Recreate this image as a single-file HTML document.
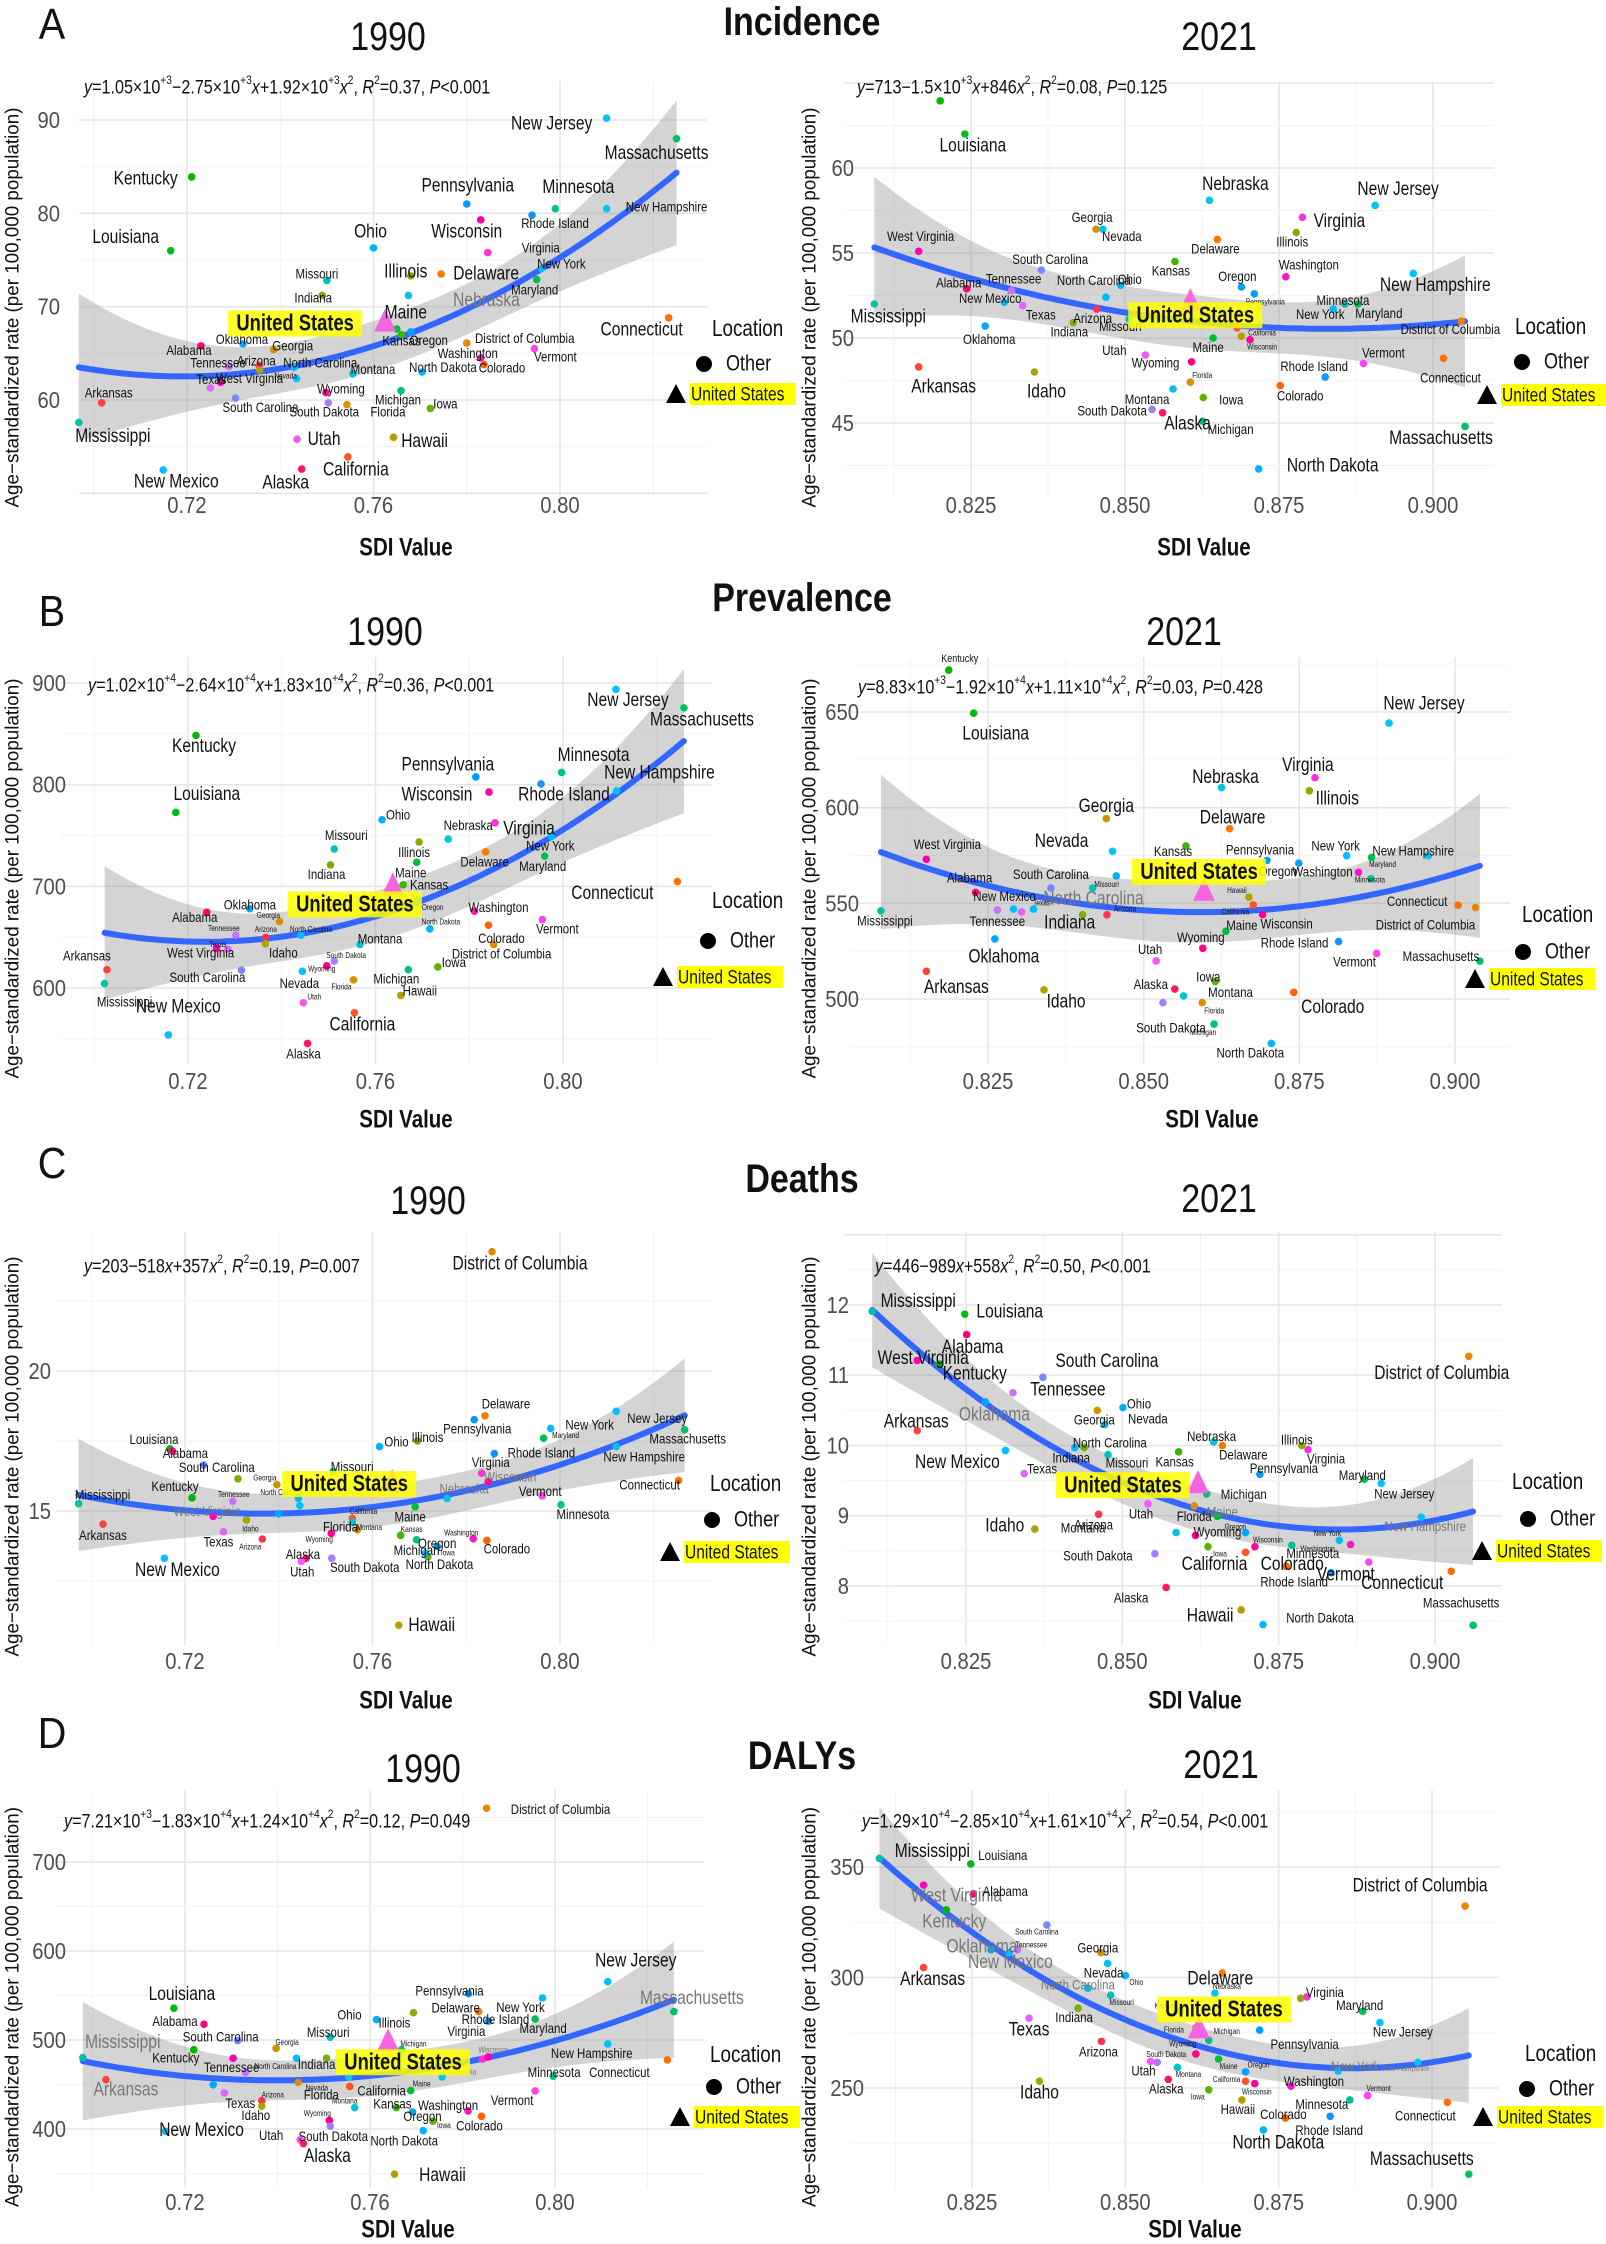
<!DOCTYPE html>
<html><head><meta charset="utf-8">
<style>
html,body{margin:0;padding:0;background:#fff;}
svg{display:block;font-family:"Liberation Sans",Arial,sans-serif;}
</style></head>
<body>
<svg id="fig" width="1606" height="2244" viewBox="0 0 1606 2244" xmlns="http://www.w3.org/2000/svg">
<rect x="0" y="0" width="1606" height="2244" fill="#fff"/>
</svg>
<script>
// ---------- DATA ----------
const A90_state=["NJ","MA","KY","PA","MN","NH","RI","WI","LA","OH","VA","NY","MO","IL","DE","MD","IN","NE","ME","CT","OR","OK","GA","DC","AL","VT","WA","TN","AZ","NC","MT","ND","CO","KS","AR","NV","TX","WV","WY","MI","SC","SD","FL","IA","MS","UT","HI","CA","AK","NM","ID"];
const A90_sdi=[.810,.825,.721,.780,.799,.810,.794,.783,.7165,.760,.7845,.796,.750,.768,.7745,.795,.749,.7675,.765,.8233,.768,.732,.7386,.780,.723,.7945,.783,.729,.7355,.743,.7556,.7704,.7837,.766,.7017,.7435,.725,.7272,.7498,.7659,.7304,.7503,.7543,.7722,.6968,.7436,.7643,.7545,.7446,.7149,.7356];
const A90_rate=[90.2,88.0,83.9,81.0,80.5,80.5,79.8,79.3,76.0,76.3,75.8,74.1,72.8,73.3,73.5,72.9,71.2,71.2,67.6,68.8,67.3,66.0,65.4,66.1,65.8,65.5,64.5,63.6,63.7,63.5,62.8,63.0,63.8,67.0,59.7,62.3,61.3,61.9,60.8,61.0,60.2,59.7,59.5,59.1,57.6,55.8,56.0,53.9,52.6,52.5,63.2];
const A90_lab=[[-55,5,"L"],[-20,14,"L"],[-46,1,"L"],[1,-19,"L"],[23,-22,"L"],[60,-2,"M"],[23,8,"M"],[-14,11,"L"],[-45,-14,"L"],[-3,-17,"L"],[53,-5,"M"],[20,-5,"M"],[-10,-7,"M"],[-5,-5,"L"],[45,-1,"L"],[-2,10,"M"],[-9,2,"M"],[78,4,"Lg"],[9,-17,"L"],[-27,11,"L"],[18,8,"M"],[-1,-5,"M"],[19,-4,"M"],[58,-5,"M"],[-12,4,"M"],[21,8,"M"],[-13,-5,"M"],[-11,-4,"M"],[-3,-5,"M"],[26,-5,"M"],[20,-5,"M"],[21,-5,"M"],[18,3,"M"],[0,6,"M"],[7,-10,"M"],[-11,-3,"X"],[1,-9,"M"],[29,-4,"M"],[15,-4,"M"],[-3,9,"M"],[25,9,"M"],[-4,9,"M"],[41,7,"M"],[15,-5,"M"],[34,13,"L"],[27,-1,"L"],[31,3,"L"],[8,12,"L"],[-16,13,"L"],[13,11,"L"],[0,0,"N"]];
const A90_us=[0.7625,68.3];
const A90_xticks=[0.72,0.76,0.80];
const A90_yticks=[60,70,80,90];

const A21_state=["KY","LA","NE","NJ","VA","GA","NV","IL","DE","WV","KS","SC","NH","WA","OR","AL","NC","OH","TN","PA","NM","MS","MN","MD","NY","TX","AZ","IN","MO","DC","OK","CA","ME","WI","UT","WY","VT","CT","AR","ID","RI","FL","CO","MT","IA","SD","AK","MI","MA","ND","HI"];
const A21_sdi=[.820,.824,.8637,.8906,.8788,.8453,.8464,.8778,.865,.8165,.8581,.8364,.8968,.8761,.8689,.8243,.8469,.8493,.8316,.871,.8304,.8093,.8857,.8878,.8838,.8334,.8454,.8416,.8507,.9046,.8273,.8682,.8643,.8703,.8533,.8608,.8887,.9017,.8165,.8353,.8825,.8606,.8752,.8578,.8627,.8544,.8561,.8626,.9052,.8717,.8689];
const A21_rate=[63.95,62.0,58.1,57.8,57.1,56.4,56.4,56.2,55.8,55.1,54.5,54.0,53.8,53.6,53.0,52.9,52.4,53.1,52.8,52.6,52.1,52.0,52.0,52.0,51.7,51.9,51.7,50.9,51.1,51.0,50.7,50.6,50.0,49.9,49.0,48.6,48.5,48.8,48.3,48.0,47.7,47.4,47.2,47.0,46.5,45.8,45.6,45.1,44.8,42.3,50.1];
const A21_lab=[[0,0,"N"],[8,11,"L"],[26,-17,"L"],[23,-17,"L"],[37,3,"L"],[-4,-12,"M"],[19,7,"M"],[-4,9,"M"],[-2,9,"M"],[2,-15,"M"],[-4,9,"M"],[9,-11,"M"],[22,11,"L"],[23,-12,"M"],[-4,-11,"M"],[-8,-6,"M"],[-12,-17,"M"],[9,-6,"M"],[2,-12,"M"],[11,8,"X"],[-14,-4,"M"],[14,12,"L"],[-2,-4,"M"],[21,9,"M"],[-13,5,"M"],[18,9,"M"],[-4,9,"M"],[-4,9,"M"],[-9,7,"M"],[-11,8,"M"],[4,13,"M"],[25,5,"X"],[-5,9,"M"],[12,7,"X"],[-31,-5,"M"],[-36,1,"M"],[20,-11,"M"],[7,19,"M"],[25,19,"L"],[12,19,"L"],[-11,-11,"M"],[12,-7,"X"],[20,10,"M"],[-26,10,"M"],[28,2,"M"],[-40,1,"M"],[25,10,"L"],[28,8,"M"],[-24,11,"L"],[74,-4,"L"],[0,0,"N"]];
const A21_us=[0.8606,52.1];
const A21_xticks=[0.825,0.850,0.875,0.900];
const A21_yticks=[45,50,55,60];

const B90_state=["NJ","MA","KY","PA","MN","RI","WI","NH","LA","OH","NE","VA","NY","MO","IL","DE","MD","ME","IN","CT","KS","OR","OK","WA","AL","GA","VT","ND","CO","TN","AZ","NC","ID","MT","DC","WV","TX","SD","IA","AR","SC","MI","NV","WY","FL","MS","HI","UT","CA","NM","AK"];
const B90_sdi=[.8113,.8258,.7217,.7814,.7997,.7953,.7842,.8114,.7174,.7614,.7755,.7855,.7975,.7512,.7693,.7835,.7961,.7688,.7504,.8244,.7659,.7692,.7332,.7811,.724,.7395,.7956,.7716,.7841,.7302,.7366,.7441,.7365,.7567,.7852,.7261,.7285,.7512,.7733,.7027,.7314,.767,.7444,.7496,.7553,.7022,.7654,.7446,.7555,.7158,.7455];
const B90_rate=[893.8,875.6,848.4,807.6,812,800.7,792.7,793.8,772.7,765.5,746.5,762.5,749,736.7,743.6,734,729.8,723.6,721.1,704.7,701.5,687.3,678,675.6,674.5,665.5,667.3,658.2,661.8,652,649.8,652,643.6,642.9,642.9,638.9,638,626.5,620.7,618,617.5,618,616.4,621.8,608,604.4,592.7,585.5,575.6,553.8,545.5];
const B90_lab=[[12,10,"L"],[18,11,"L"],[8,10,"L"],[-28,-13,"L"],[32,-18,"L"],[23,10,"L"],[-52,2,"L"],[43,-19,"L"],[31,-19,"L"],[16,-5,"M"],[20,-14,"M"],[34,5,"L"],[-1,9,"M"],[12,-14,"M"],[-5,10,"M"],[-1,10,"M"],[-2,10,"M"],[-6,10,"M"],[-4,9,"M"],[-65,11,"L"],[26,0,"M"],[14,8,"X"],[0,-4,"M"],[24,-4,"M"],[-12,5,"M"],[-11,-6,"X"],[15,9,"M"],[11,-7,"X"],[13,13,"M"],[-12,-7,"X"],[0,-8,"X"],[10,-6,"X"],[18,9,"M"],[20,-6,"M"],[8,9,"M"],[-16,4,"M"],[-10,-5,"X"],[12,-6,"X"],[16,-5,"M"],[-20,-14,"M"],[-34,7,"M"],[-12,9,"M"],[-3,12,"M"],[-5,3,"X"],[-12,7,"X"],[20,18,"M"],[19,-5,"M"],[11,-6,"X"],[8,11,"L"],[10,-29,"L"],[-4,10,"M"]];
const B90_us=[0.7637,700];
const B90_xticks=[0.72,0.76,0.80];
const B90_yticks=[600,700,800,900];

const B21_state=["KY","LA","NJ","VA","NE","IL","GA","DE","KS","NV","WV","PA","NY","MD","NH","OR","WA","MN","SC","OH","MO","AL","NM","NC","TX","HI","CA","CT","DC","MS","TN","IN","AZ","WI","ME","OK","RI","WY","VT","MA","UT","AR","IA","ID","AK","CO","MT","SD","FL","MI","ND"];
const B21_sdi=[.8187,.8227,.8894,.8775,.8625,.8766,.844,.8638,.8568,.845,.8151,.8698,.8826,.8866,.8957,.8749,.8845,.8865,.8351,.8456,.8418,.823,.8291,.8323,.8304,.8669,.8676,.9005,.9033,.8078,.8265,.8402,.8441,.8691,.8632,.8261,.8813,.8595,.8874,.904,.852,.8151,.8615,.834,.855,.8741,.8564,.8531,.8594,.8613,.8705];
const B21_rate=[671.9,649.4,644.2,615.7,610.5,608.8,594.3,589,580,577.2,573,572.4,574.9,574,574.9,571,566.2,562.9,558,564.3,558,555.7,547,547,545.5,553.2,549.2,549,547.8,546.1,546.5,544,544,544.1,535.4,531.4,530,526.5,523.8,519.8,519.9,514.5,509.1,504.8,505.2,503.5,501.6,498.1,498.1,486.9,476.8];
const B21_lab=[[11,-11,"S"],[22,20,"L"],[35,-20,"L"],[-7,-13,"L"],[4,-11,"L"],[28,7,"L"],[0,-13,"L"],[3,-12,"L"],[-13,5,"M"],[-51,-11,"L"],[21,-15,"M"],[-7,-11,"M"],[-11,-10,"M"],[11,7,"X"],[-15,-5,"M"],[-21,8,"M"],[-36,-1,"M"],[-1,1,"X"],[0,-14,"M"],[0,0,"N"],[14,-4,"X"],[-6,-15,"M"],[-9,-13,"M"],[60,-11,"Lg"],[20,-9,"X"],[-12,-7,"X"],[-18,7,"X"],[-41,-4,"M"],[-50,17,"M"],[4,10,"M"],[0,11,"M"],[-13,7,"L"],[18,-6,"X"],[24,9,"M"],[16,-6,"M"],[9,17,"L"],[-44,1,"M"],[-2,-11,"M"],[-22,8,"M"],[-39,-5,"M"],[-6,-12,"M"],[30,15,"L"],[-7,-5,"M"],[22,11,"L"],[-24,-5,"M"],[39,14,"L"],[47,-4,"M"],[8,25,"M"],[12,8,"X"],[-11,8,"X"],[-21,9,"M"]];
const B21_us=[0.8597,556];
const B21_xticks=[0.825,0.850,0.875,0.900];
const B21_yticks=[500,550,600,650];

const C90_state=["DC","DE","PA","NJ","NY","MD","MA","IL","OH","LA","AL","RI","NH","SC","WI","VA","MO","GA","CT","KY","TN","NC","NE","MS","VT","MN","ME","WV","ID","CA","AR","FL","TX","WY","KS","WA","AZ","CO","MI","OR","IA","AK","SD","NM","UT","ND","HI","IN","MT","NV","OK"];
const C90_sdi=[.7855,.784,.7817,.812,.798,.7965,.8266,.7696,.7615,.7168,.7173,.786,.812,.724,.7847,.7833,.7516,.7396,.8253,.7215,.7302,.7442,.7759,.6973,.7962,.8002,.7691,.726,.7331,.7557,.7025,.7568,.7282,.7512,.766,.7815,.7365,.7844,.7694,.7738,.7718,.7458,.7513,.7156,.7448,.7713,.7656,.7313,.7557,.7445,.7400];
const C90_rate=[24.26,18.4,18.26,18.56,17.95,17.6,17.9,17.5,17.3,17.22,17.14,17.05,17.3,16.64,16.05,16.35,16.41,15.94,16.09,15.47,15.35,15.45,15.45,15.26,15.54,15.22,15.15,14.81,14.68,14.74,14.53,14.33,14.26,14.2,14.13,14.01,14.0,13.95,13.97,13.74,13.37,13.31,13.31,13.31,13.2,13.49,10.92,16.15,14.6,15.19,14.9];
const C90_lab=[[28,11,"L"],[21,-12,"M"],[3,9,"M"],[41,7,"M"],[39,-4,"M"],[22,-3,"X"],[3,9,"M"],[10,-4,"M"],[17,-5,"M"],[-16,-10,"M"],[13,2,"M"],[47,-1,"M"],[28,10,"M"],[13,2,"M"],[22,-5,"Mg"],[9,-11,"M"],[19,-5,"M"],[-12,-7,"X"],[-29,4,"M"],[-17,-12,"M"],[1,-7,"X"],[-17,-6,"X"],[17,-10,"Mg"],[24,-9,"M"],[-2,-5,"M"],[22,9,"M"],[-5,10,"M"],[-6,-5,"Mg"],[4,9,"X"],[11,-7,"X"],[0,11,"M"],[-17,-3,"M"],[-5,10,"M"],[-12,6,"X"],[11,-6,"X"],[-12,-6,"X"],[-12,8,"X"],[20,8,"M"],[0,10,"M"],[0,-3,"M"],[20,-4,"X"],[-3,-4,"M"],[33,9,"M"],[13,11,"L"],[1,10,"M"],[14,11,"M"],[33,-1,"L"],[0,0,"N"],[17,5,"X"],[0,0,"N"],[0,0,"N"]];
const C90_us=[0.7642,16.0];
const C90_xticks=[0.72,0.76,0.80];
const C90_yticks=[15,20];

const C21_state=["MS","LA","AL","WV","KY","DC","SC","TN","OK","GA","OH","NV","AR","NE","DE","IL","VA","NC","KS","NM","MO","IN","TX","PA","MD","NJ","MI","UT","FL","ME","AZ","NH","ID","OR","MT","WY","NY","WA","WI","IA","MN","SD","CA","VT","CO","RI","CT","AK","MA","HI","ND"];
const C21_sdi=[.81,.8248,.8251,.8172,.8208,.9054,.8373,.8325,.8281,.846,.8501,.8472,.8172,.8646,.866,.8787,.8797,.8424,.859,.8313,.8477,.8439,.8343,.872,.8887,.8914,.8635,.8541,.8615,.8652,.8462,.8978,.836,.8697,.8586,.8617,.8847,.8865,.8712,.8637,.8771,.8552,.8697,.8894,.8762,.8834,.9026,.857,.9061,.869,.8725];
const C21_rate=[11.91,11.87,11.58,11.21,11.16,11.27,10.97,10.75,10.62,10.5,10.54,10.3,10.21,10.05,10.0,10.0,9.94,9.97,9.91,9.93,9.87,9.97,9.6,9.59,9.52,9.46,9.31,9.17,9.14,8.99,9.02,8.98,8.81,8.76,8.76,8.72,8.65,8.59,8.56,8.56,8.58,8.46,8.48,8.34,8.28,8.19,8.21,7.98,7.44,7.66,7.45];
const C21_lab=[[46,-11,"L"],[45,-3,"L"],[6,12,"L"],[6,-3,"L"],[35,9,"L"],[-27,16,"L"],[64,-17,"L"],[55,-4,"L"],[9,12,"Lg"],[-3,9,"M"],[16,-4,"M"],[43,-6,"M"],[-1,-10,"L"],[-2,-6,"M"],[21,9,"M"],[-5,-6,"M"],[18,9,"M"],[35,-5,"M"],[-4,10,"M"],[-48,11,"L"],[19,8,"M"],[-13,10,"M"],[18,-5,"M"],[24,-6,"M"],[-2,-4,"M"],[23,10,"M"],[37,0,"M"],[-7,10,"M"],[0,10,"M"],[5,-5,"Mg"],[-5,10,"M"],[4,9,"Mg"],[-30,-4,"L"],[-10,-6,"X"],[-93,-5,"M"],[22,-4,"M"],[-12,-7,"X"],[-33,4,"X"],[13,-7,"X"],[12,7,"X"],[21,8,"M"],[-57,2,"M"],[-31,11,"L"],[-23,12,"L"],[6,-3,"L"],[-37,9,"M"],[-49,11,"L"],[-35,10,"M"],[-12,-23,"M"],[-31,5,"L"],[57,-7,"M"]];
const C21_us=[0.8621,9.45];
const C21_xticks=[0.825,0.850,0.875,0.900];
const C21_yticks=[8,9,10,11,12];

const D90_state=["DC","NJ","PA","NY","MA","LA","DE","OH","RI","MD","AL","IL","VA","WI","MO","SC","GA","KY","MS","MI","NH","IN","NC","WV","CT","TN","MN","NE","AR","CA","ME","FL","NV","VT","TX","AZ","MT","WA","KS","ID","OR","CO","IA","WY","SD","NM","ND","UT","AK","HI","OK"];
const D90_sdi=[.7852,.8114,.7813,.7973,.8257,.7176,.7835,.7614,.7856,.7957,.7241,.7694,.7843,.7856,.7514,.7314,.7397,.7219,.6979,.7668,.8114,.7506,.7441,.7304,.8243,.7331,.7996,.7756,.7029,.7556,.7688,.7445,.7554,.7957,.7285,.7366,.7567,.7812,.7657,.7366,.7692,.7841,.7736,.7512,.7514,.7158,.7715,.7449,.7456,.7653,.7261];
const D90_rate=[760.4,565.5,552.1,547.2,531.9,535.7,531.9,523,521.2,523.5,517.7,530.7,478.4,481,503.2,499.4,490.6,489.1,480.3,489.1,495.6,479.5,479.5,479.5,477.6,463.8,459.3,458.5,455.4,447.8,443.2,452.4,458.5,442.8,440.5,431.8,424.1,420.3,424.1,425.6,419.1,414.2,408.8,409.6,403.1,397.4,398.1,387.8,383.6,349.2,449.7];
const D90_lab=[[74,1,"M"],[28,-22,"L"],[-19,-3,"M"],[-22,9,"M"],[18,-14,"Lg"],[8,-15,"L"],[-23,-4,"M"],[-27,-5,"M"],[7,-2,"M"],[8,9,"M"],[-29,-3,"M"],[-19,10,"M"],[-16,-28,"M"],[5,-7,"Xg"],[-2,-5,"M"],[-17,-4,"M"],[11,-6,"X"],[-18,8,"M"],[40,-16,"Lg"],[12,-6,"X"],[-16,9,"M"],[-10,6,"M"],[-21,8,"X"],[0,0,"N"],[-48,12,"M"],[-14,-5,"M"],[1,-4,"M"],[20,-5,"Xg"],[20,9,"Lg"],[32,4,"M"],[11,-7,"X"],[23,12,"M"],[-32,11,"X"],[-23,9,"M"],[16,10,"M"],[11,-6,"X"],[-10,-7,"X"],[-20,-6,"M"],[-4,-4,"M"],[-6,9,"M"],[10,4,"M"],[-2,9,"M"],[11,4,"X"],[-12,-7,"X"],[3,10,"M"],[36,-2,"L"],[-19,10,"M"],[-29,-5,"M"],[24,12,"L"],[48,0,"L"],[0,0,"N"]];
const D90_us=[0.7639,497.5];
const D90_xticks=[0.72,0.76,0.80];
const D90_yticks=[400,500,600,700];

const D21_state=["MS","LA","WV","AL","KY","DC","SC","OK","TN","NM","GA","NV","AR","OH","DE","NC","NE","MO","VA","IL","MD","IN","TX","NJ","FL","MI","PA","AZ","WY","SD","UT","ME","NH","NY","OR","MT","AK","CA","WA","WI","IA","ID","VT","MN","HI","CT","CO","RI","ND","MA","KS"];
const D21_sdi=[.8099,.8248,.8171,.8252,.8208,.9054,.8372,.8281,.8324,.8311,.846,.8471,.8171,.85,.8658,.8439,.8646,.8476,.8796,.8786,.8887,.8423,.8343,.8915,.8615,.8636,.8719,.8461,.8615,.8552,.8541,.8652,.8977,.8847,.8696,.8585,.857,.8696,.877,.8711,.8636,.836,.8895,.8866,.869,.9025,.8761,.8834,.8725,.906,.859];
const D21_rate=[353.9,351.4,341.8,337.8,330.6,332.3,323.8,312.5,312.5,311.3,311.3,306.3,304.5,300.9,302,295.1,292.9,292,291.2,290.6,284.7,286.1,281.6,279.6,277.3,271.6,276.2,271.1,265.4,261.6,262,263.1,261.6,257.7,257.3,259.3,253.9,253.1,250.8,252,249.2,253.1,246.6,244.6,244.6,243.5,236.4,237.2,231,211,285];
const D21_lab=[[53,-8,"L"],[32,-9,"M"],[33,10,"Lg"],[32,-3,"M"],[8,11,"Lg"],[-45,-21,"L"],[-10,7,"X"],[-9,-4,"Lg"],[14,-5,"X"],[1,9,"Lg"],[-3,-5,"M"],[-4,9,"M"],[9,11,"L"],[11,7,"X"],[-2,5,"L"],[-10,-4,"Mg"],[12,-7,"X"],[11,7,"X"],[18,-5,"M"],[0,0,"N"],[-3,-6,"M"],[-4,9,"M"],[0,11,"L"],[23,9,"M"],[-22,2,"X"],[18,-9,"X"],[45,14,"M"],[-3,10,"M"],[-13,-10,"X"],[9,-8,"X"],[-7,9,"M"],[10,7,"X"],[-12,6,"Xg"],[17,-5,"Mg"],[13,-7,"X"],[11,7,"X"],[-2,9,"M"],[-19,-2,"X"],[23,-5,"M"],[2,8,"X"],[-11,7,"X"],[0,11,"L"],[11,-7,"X"],[-28,4,"M"],[-4,9,"M"],[-22,13,"M"],[-2,-4,"M"],[-1,14,"M"],[15,12,"L"],[-47,-16,"L"],[-15,-5,"X"]];
const D21_us=[0.862,276.5];
const D21_xticks=[0.825,0.850,0.875,0.900];
const D21_yticks=[250,300,350];

// ---------- HELPERS ----------
const STATES=[["AL","Alabama"],["AK","Alaska"],["AZ","Arizona"],["AR","Arkansas"],["CA","California"],["CO","Colorado"],["CT","Connecticut"],["DE","Delaware"],["DC","District of Columbia"],["FL","Florida"],["GA","Georgia"],["HI","Hawaii"],["ID","Idaho"],["IL","Illinois"],["IN","Indiana"],["IA","Iowa"],["KS","Kansas"],["KY","Kentucky"],["LA","Louisiana"],["ME","Maine"],["MD","Maryland"],["MA","Massachusetts"],["MI","Michigan"],["MN","Minnesota"],["MS","Mississippi"],["MO","Missouri"],["MT","Montana"],["NE","Nebraska"],["NV","Nevada"],["NH","New Hampshire"],["NJ","New Jersey"],["NM","New Mexico"],["NY","New York"],["NC","North Carolina"],["ND","North Dakota"],["OH","Ohio"],["OK","Oklahoma"],["OR","Oregon"],["PA","Pennsylvania"],["RI","Rhode Island"],["SC","South Carolina"],["SD","South Dakota"],["TN","Tennessee"],["TX","Texas"],["UT","Utah"],["VT","Vermont"],["VA","Virginia"],["WA","Washington"],["WV","West Virginia"],["WI","Wisconsin"],["WY","Wyoming"]];
const NAME={},IDX={};
STATES.forEach((s,i)=>{NAME[s[0]]=s[1];IDX[s[0]]=i;});
function hcl(h,c,l){const hr=h*Math.PI/180,a=c*Math.cos(hr),b=c*Math.sin(hr);
 const fy=(l+16)/116,fx=fy+a/500,fz=fy-b/200;
 const f=t=>{const t3=t*t*t;return t3>0.008856?t3:(t-16/116)/7.787;};
 const X=0.95047*f(fx),Y=f(fy),Z=1.08883*f(fz);
 let r=3.2406*X-1.5372*Y-0.4986*Z,g=-0.9689*X+1.8758*Y+0.0415*Z,bb=0.0557*X-0.2040*Y+1.0570*Z;
 const gm=v=>{v=v>0.0031308?1.055*Math.pow(v,1/2.4)-0.055:12.92*v;return Math.round(Math.max(0,Math.min(1,v))*255);};
 return `rgb(${gm(r)},${gm(g)},${gm(bb)})`;}
function stateColor(ab){return hcl(15+360*IDX[ab]/51,100,65);}
const NS="http://www.w3.org/2000/svg";
const svg=document.getElementById("fig");
function el(tag,attrs,parent){const e=document.createElementNS(NS,tag);for(const k in attrs)e.setAttribute(k,attrs[k]);(parent||svg).appendChild(e);return e;}
function txt(parent,x,y,s,size,o){o=o||{};
 const t=el("text",{transform:`translate(${x},${y}) scale(${o.sx||0.82},1)`,"font-size":size,"text-anchor":o.anchor||"middle","dominant-baseline":"central",fill:o.fill||"#111"},parent);
 if(o.bold)t.setAttribute("font-weight","bold");
 t.textContent=s;return t;}
const SIZES={L:19,M:14,S:11,X:8};

function fitQuad(xs,ys){
 const n=xs.length,mx=xs.reduce((a,b)=>a+b,0)/n;
 const S=[0,0,0,0,0],T=[0,0,0];
 for(let i=0;i<n;i++){const u=xs[i]-mx;let p=1;for(let k=0;k<5;k++){S[k]+=p;if(k<3)T[k]+=p*ys[i];p*=u;}}
 const M=[[S[0],S[1],S[2]],[S[1],S[2],S[3]],[S[2],S[3],S[4]]];
 const det=M[0][0]*(M[1][1]*M[2][2]-M[1][2]*M[2][1])-M[0][1]*(M[1][0]*M[2][2]-M[1][2]*M[2][0])+M[0][2]*(M[1][0]*M[2][1]-M[1][1]*M[2][0]);
 const I=[[0,0,0],[0,0,0],[0,0,0]];
 for(let i=0;i<3;i++)for(let j=0;j<3;j++){const r=[0,1,2].filter(k=>k!==j),c=[0,1,2].filter(k=>k!==i);
  const m=M[r[0]][c[0]]*M[r[1]][c[1]]-M[r[0]][c[1]]*M[r[1]][c[0]];I[i][j]=((i+j)%2?-1:1)*m/det;}
 const B=[0,1,2].map(i=>I[i][0]*T[0]+I[i][1]*T[1]+I[i][2]*T[2]);
 let ss=0;for(let i=0;i<n;i++){const u=xs[i]-mx;const yh=B[0]+B[1]*u+B[2]*u*u;ss+=(ys[i]-yh)**2;}
 const s2=ss/(n-3);
 return {pred:x=>{const u=x-mx;return B[0]+B[1]*u+B[2]*u*u;},
  se:x=>{const u=x-mx,v=[1,u,u*u];let q=0;for(let i=0;i<3;i++)for(let j=0;j<3;j++)q+=v[i]*I[i][j]*v[j];return Math.sqrt(s2*q);}};
}

function eqText(parent,x,y,s){
 const t=el("text",{transform:`translate(${x},${y}) scale(0.85,1)`,"font-size":19,"dominant-baseline":"central",fill:"#111"},parent);
 const parts=s.split(/(\^\{[^}]*\}|[yxRP])/);
 parts.forEach(p=>{if(!p)return;const ts=el("tspan",{},t);
  if(p[0]==="^"){ts.setAttribute("baseline-shift","super");ts.setAttribute("font-size","12");ts.textContent=p.slice(2,-1);}
  else if(/^[yxRP]$/.test(p)){ts.setAttribute("font-style","italic");ts.textContent=p;}
  else ts.textContent=p;});
 return t;}

// ---------- PANELS (layout only) ----------
const PANELS=[
 {id:"A90",title:"1990",tx:388,ty:36,eq:"y=1.05×10^{+3}−2.75×10^{+3}x+1.92×10^{+3}x^{2}, R^{2}=0.37, P<0.001",ex:84,ey:87,xa:[0.72,187,0.80,560],ya:[90,120,60,400],box:[79,82,707,497],xmin:0.02,ymin:5,xtY:505,sdiX:406,sdiY:547,ytX:13,tickR:60,leg:[712,329,704,364,676,394]},
 {id:"A21",title:"2021",tx:1219,ty:36,eq:"y=713−1.5×10^{+3}x+846x^{2}, R^{2}=0.08, P=0.125",ex:857,ey:87,xa:[0.825,971,0.900,1433],ya:[60,168,45,423],box:[845,82,1494,497],xmin:0.0125,ymin:2.5,xtY:505,sdiX:1204,sdiY:547,ytX:810,tickR:854,leg:[1515,327,1522,362,1487,395]},
 {id:"B90",title:"1990",tx:385,ty:631,eq:"y=1.02×10^{+4}−2.64×10^{+4}x+1.83×10^{+4}x^{2}, R^{2}=0.36, P<0.001",ex:88,ey:685,xa:[0.72,188,0.80,563],ya:[900,683,600,988],box:[60,657,712,1064],xmin:0.02,ymin:50,xtY:1081,sdiX:406,sdiY:1119,ytX:13,tickR:66,leg:[712,901,708,941,663,977]},
 {id:"B21",title:"2021",tx:1184,ty:631,eq:"y=8.83×10^{+3}−1.92×10^{+4}x+1.11×10^{+4}x^{2}, R^{2}=0.03, P=0.428",ex:858,ey:687,xa:[0.825,988,0.900,1455],ya:[650,712,500,999],box:[851,657,1510,1064],xmin:0.0125,ymin:25,xtY:1081,sdiX:1212,sdiY:1119,ytX:810,tickR:859,leg:[1522,915,1523,952,1475,979]},
 {id:"C90",title:"1990",tx:428,ty:1200,eq:"y=203−518x+357x^{2}, R^{2}=0.19, P=0.007",ex:84,ey:1266,xa:[0.72,185,0.80,560],ya:[20,1371,15,1511],box:[56,1232,712,1645],xmin:0.02,ymin:2.5,xtY:1661,sdiX:406,sdiY:1700,ytX:13,tickR:51,leg:[710,1484,712,1520,670,1552]},
 {id:"C21",title:"2021",tx:1219,ty:1198,eq:"y=446−989x+558x^{2}, R^{2}=0.50, P<0.001",ex:875,ey:1266,xa:[0.825,966,0.900,1435],ya:[12,1305,8,1586],box:[844,1232,1502,1645],xmin:0.0125,ymin:0.5,xtY:1661,sdiX:1195,sdiY:1700,ytX:810,tickR:849,leg:[1512,1482,1528,1519,1482,1551]},
 {id:"D90",title:"1990",tx:423,ty:1768,eq:"y=7.21×10^{+3}−1.83×10^{+4}x+1.24×10^{+4}x^{2}, R^{2}=0.12, P=0.049",ex:64,ey:1821,xa:[0.72,185,0.80,555],ya:[700,1862,400,2129],box:[56,1790,704,2188],xmin:0.02,ymin:50,xtY:2202,sdiX:408,sdiY:2229,ytX:13,tickR:66,leg:[710,2055,714,2087,680,2117]},
 {id:"D21",title:"2021",tx:1221,ty:1764,eq:"y=1.29×10^{+4}−2.85×10^{+4}x+1.61×10^{+4}x^{2}, R^{2}=0.54, P<0.001",ex:862,ey:1821,xa:[0.825,972,0.900,1432],ya:[350,1867,250,2088],box:[851,1790,1499,2188],xmin:0.0125,ymin:25,xtY:2202,sdiX:1195,sdiY:2229,ytX:810,tickR:864,leg:[1525,2054,1527,2089,1483,2117]}
];
const DATA={
 A90:[A90_state,A90_sdi,A90_rate,A90_lab,A90_us,A90_xticks,A90_yticks],
 A21:[A21_state,A21_sdi,A21_rate,A21_lab,A21_us,A21_xticks,A21_yticks],
 B90:[B90_state,B90_sdi,B90_rate,B90_lab,B90_us,B90_xticks,B90_yticks],
 B21:[B21_state,B21_sdi,B21_rate,B21_lab,B21_us,B21_xticks,B21_yticks],
 C90:[C90_state,C90_sdi,C90_rate,C90_lab,C90_us,C90_xticks,C90_yticks],
 C21:[C21_state,C21_sdi,C21_rate,C21_lab,C21_us,C21_xticks,C21_yticks],
 D90:[D90_state,D90_sdi,D90_rate,D90_lab,D90_us,D90_xticks,D90_yticks],
 D21:[D21_state,D21_sdi,D21_rate,D21_lab,D21_us,D21_xticks,D21_yticks]
};

// row titles and letters
[["A","Incidence",24,21],["B","Prevalence",611,597],["C","Deaths",1163,1178],["D","DALYs",1733,1755]].forEach(r=>{
 const l=txt(svg,52,r[2],r[0],44,{sx:0.9});
 
 
 const t=txt(svg,802,r[3],r[1],40,{sx:0.85,bold:true});
 
 
});

PANELS.forEach(p=>{
 const [st,sdi,rate,lab,us,xticks,yticks]=DATA[p.id];
 const g=el("g",{});
 
 
 const sx=v=>p.xa[1]+(v-p.xa[0])*(p.xa[3]-p.xa[1])/(p.xa[2]-p.xa[0]);
 const sy=v=>p.ya[1]+(v-p.ya[0])*(p.ya[3]-p.ya[1])/(p.ya[2]-p.ya[0]);
 const [bx0,by0,bx1,by1]=p.box;
 // gridlines
 const grid=el("g",{},g);
 
 
 const xs=[],ys=[];
 const xstep=xticks[1]-xticks[0],ystep=yticks[1]-yticks[0];
 for(let v=xticks[0]-2*xstep;v<=xticks[xticks.length-1]+2*xstep+1e-9;v+=xstep/2)xs.push([v,Math.abs(((v-xticks[0])/xstep)-Math.round((v-xticks[0])/xstep))<1e-6]);
 for(let v=yticks[0]-2*ystep;v<=yticks[yticks.length-1]+2*ystep+1e-9;v+=ystep/2)ys.push([v,Math.abs(((v-yticks[0])/ystep)-Math.round((v-yticks[0])/ystep))<1e-6]);
 xs.forEach(([v,maj])=>{const X=sx(v);if(X<bx0||X>bx1)return;el("line",{x1:X,x2:X,y1:by0,y2:by1,stroke:maj?"#e6e6e6":"#f3f3f3","stroke-width":maj?1.6:1},grid);});
 ys.forEach(([v,maj])=>{const Y=sy(v);if(Y<by0||Y>by1)return;el("line",{x1:bx0,x2:bx1,y1:Y,y2:Y,stroke:maj?"#e6e6e6":"#f3f3f3","stroke-width":maj?1.6:1},grid);});
 // fit band + line
 const f=fitQuad(sdi,rate);
 const lo=Math.min(...sdi),hi=Math.max(...sdi);
 let up=[],dn=[],ln=[];
 for(let i=0;i<=80;i++){const x=lo+(hi-lo)*i/80;const yh=f.pred(x),e=2.011*f.se(x);
  up.push(sx(x).toFixed(1)+","+sy(yh+e).toFixed(1));dn.push(sx(x).toFixed(1)+","+sy(yh-e).toFixed(1));ln.push(sx(x).toFixed(1)+","+sy(yh).toFixed(1));}
 const band=el("polygon",{points:up.concat(dn.reverse()).join(" "),fill:"#999999","fill-opacity":0.42},g);
 
 
 const line=el("polyline",{points:ln.join(" "),fill:"none",stroke:"#3366FF","stroke-width":6,"stroke-linecap":"round"},g);
 
 
 // points
 st.forEach((ab,i)=>{
  const c=el("circle",{cx:sx(sdi[i]),cy:sy(rate[i]),r:3.8,fill:stateColor(ab)},g);
  
  
 });
 // US triangle
 const ux=sx(us[0]),uy=sy(us[1]);
 const tri=el("polygon",{points:`${ux-11},${uy+9} ${ux+11},${uy+9} ${ux},${uy-14}`,fill:"#F564E3"},g);
 
 
 // labels
 st.forEach((ab,i)=>{
  const L=lab[i];const code=L[2];if(code[0]==="N")return;
  const t=txt(g,sx(sdi[i])+L[0],sy(rate[i])+L[1],NAME[ab],SIZES[code[0]],{fill:code[1]==="g"?"#777":"#111"});
  
  
 });
 // US label
 const usOff={A90:[-90,1],A21:[5,13],B90:[-38,18],B21:[-5,-20],C90:[-43,1],C21:[-75,1],D90:[15,20],D21:[25,-20]}[p.id];
 const ulx=ux+usOff[0],uly=uy+usOff[1];
 const ubg=el("rect",{x:ulx-67,y:uly-13,width:134,height:26,fill:"#ffff00","fill-opacity":0.85},g);
 
 
 const ut=txt(g,ulx,uly,"United States",23,{sx:0.8,bold:true});
 
 
 // titles & axes
 const tt=txt(g,p.tx,p.ty,p.title,40,{sx:0.85});
 
 
 const eq=eqText(g,p.ex,p.ey,p.eq);
 
 
 xticks.forEach(v=>{const t=txt(g,sx(v),p.xtY,(p.id.endsWith("90")?v.toFixed(2):v.toFixed(3)),23,{sx:0.88,fill:"#4d4d4d"});
  
  });
 yticks.forEach(v=>{const t=txt(g,p.tickR,sy(v),String(v),23,{sx:0.88,fill:"#4d4d4d",anchor:"end"});
  
  });
 const xl=txt(g,p.sdiX,p.sdiY,"SDI Value",25,{sx:0.82,bold:true});
 
 
 const cy=(by0+by1)/2+18;
 const yt=el("text",{transform:`translate(${p.ytX},${cy}) rotate(-90)`,"font-size":19,"text-anchor":"middle","dominant-baseline":"central",fill:"#111",textLength:400,lengthAdjust:"spacingAndGlyphs"},g);
 yt.textContent="Age−standardized rate (per 100,000 population)";
 
 
 // legend
 const lg=el("g",{},g);
 
 
 const [lx,ly,ox,oy,trx,try_]=p.leg;
 const lt=txt(lg,lx,ly,"Location",23,{sx:0.82,anchor:"start"});
 
 
 const oc=el("circle",{cx:ox,cy:oy,r:8,fill:"#000"},lg);
 
 
 const ot=txt(lg,ox+22,oy,"Other",22,{sx:0.82,anchor:"start"});
 
 
 const lt2=el("polygon",{points:`${trx-10},${try_+9} ${trx+10},${try_+9} ${trx},${try_-10}`,fill:"#000"},lg);
 
 
 const hb=el("rect",{x:trx+14,y:try_-11,width:106,height:22,fill:"#ffff00"},lg);
 
 
 const us2=txt(lg,trx+15,try_,"United States",19,{sx:0.82,anchor:"start"});
 
 
});
</script>
</body></html>
